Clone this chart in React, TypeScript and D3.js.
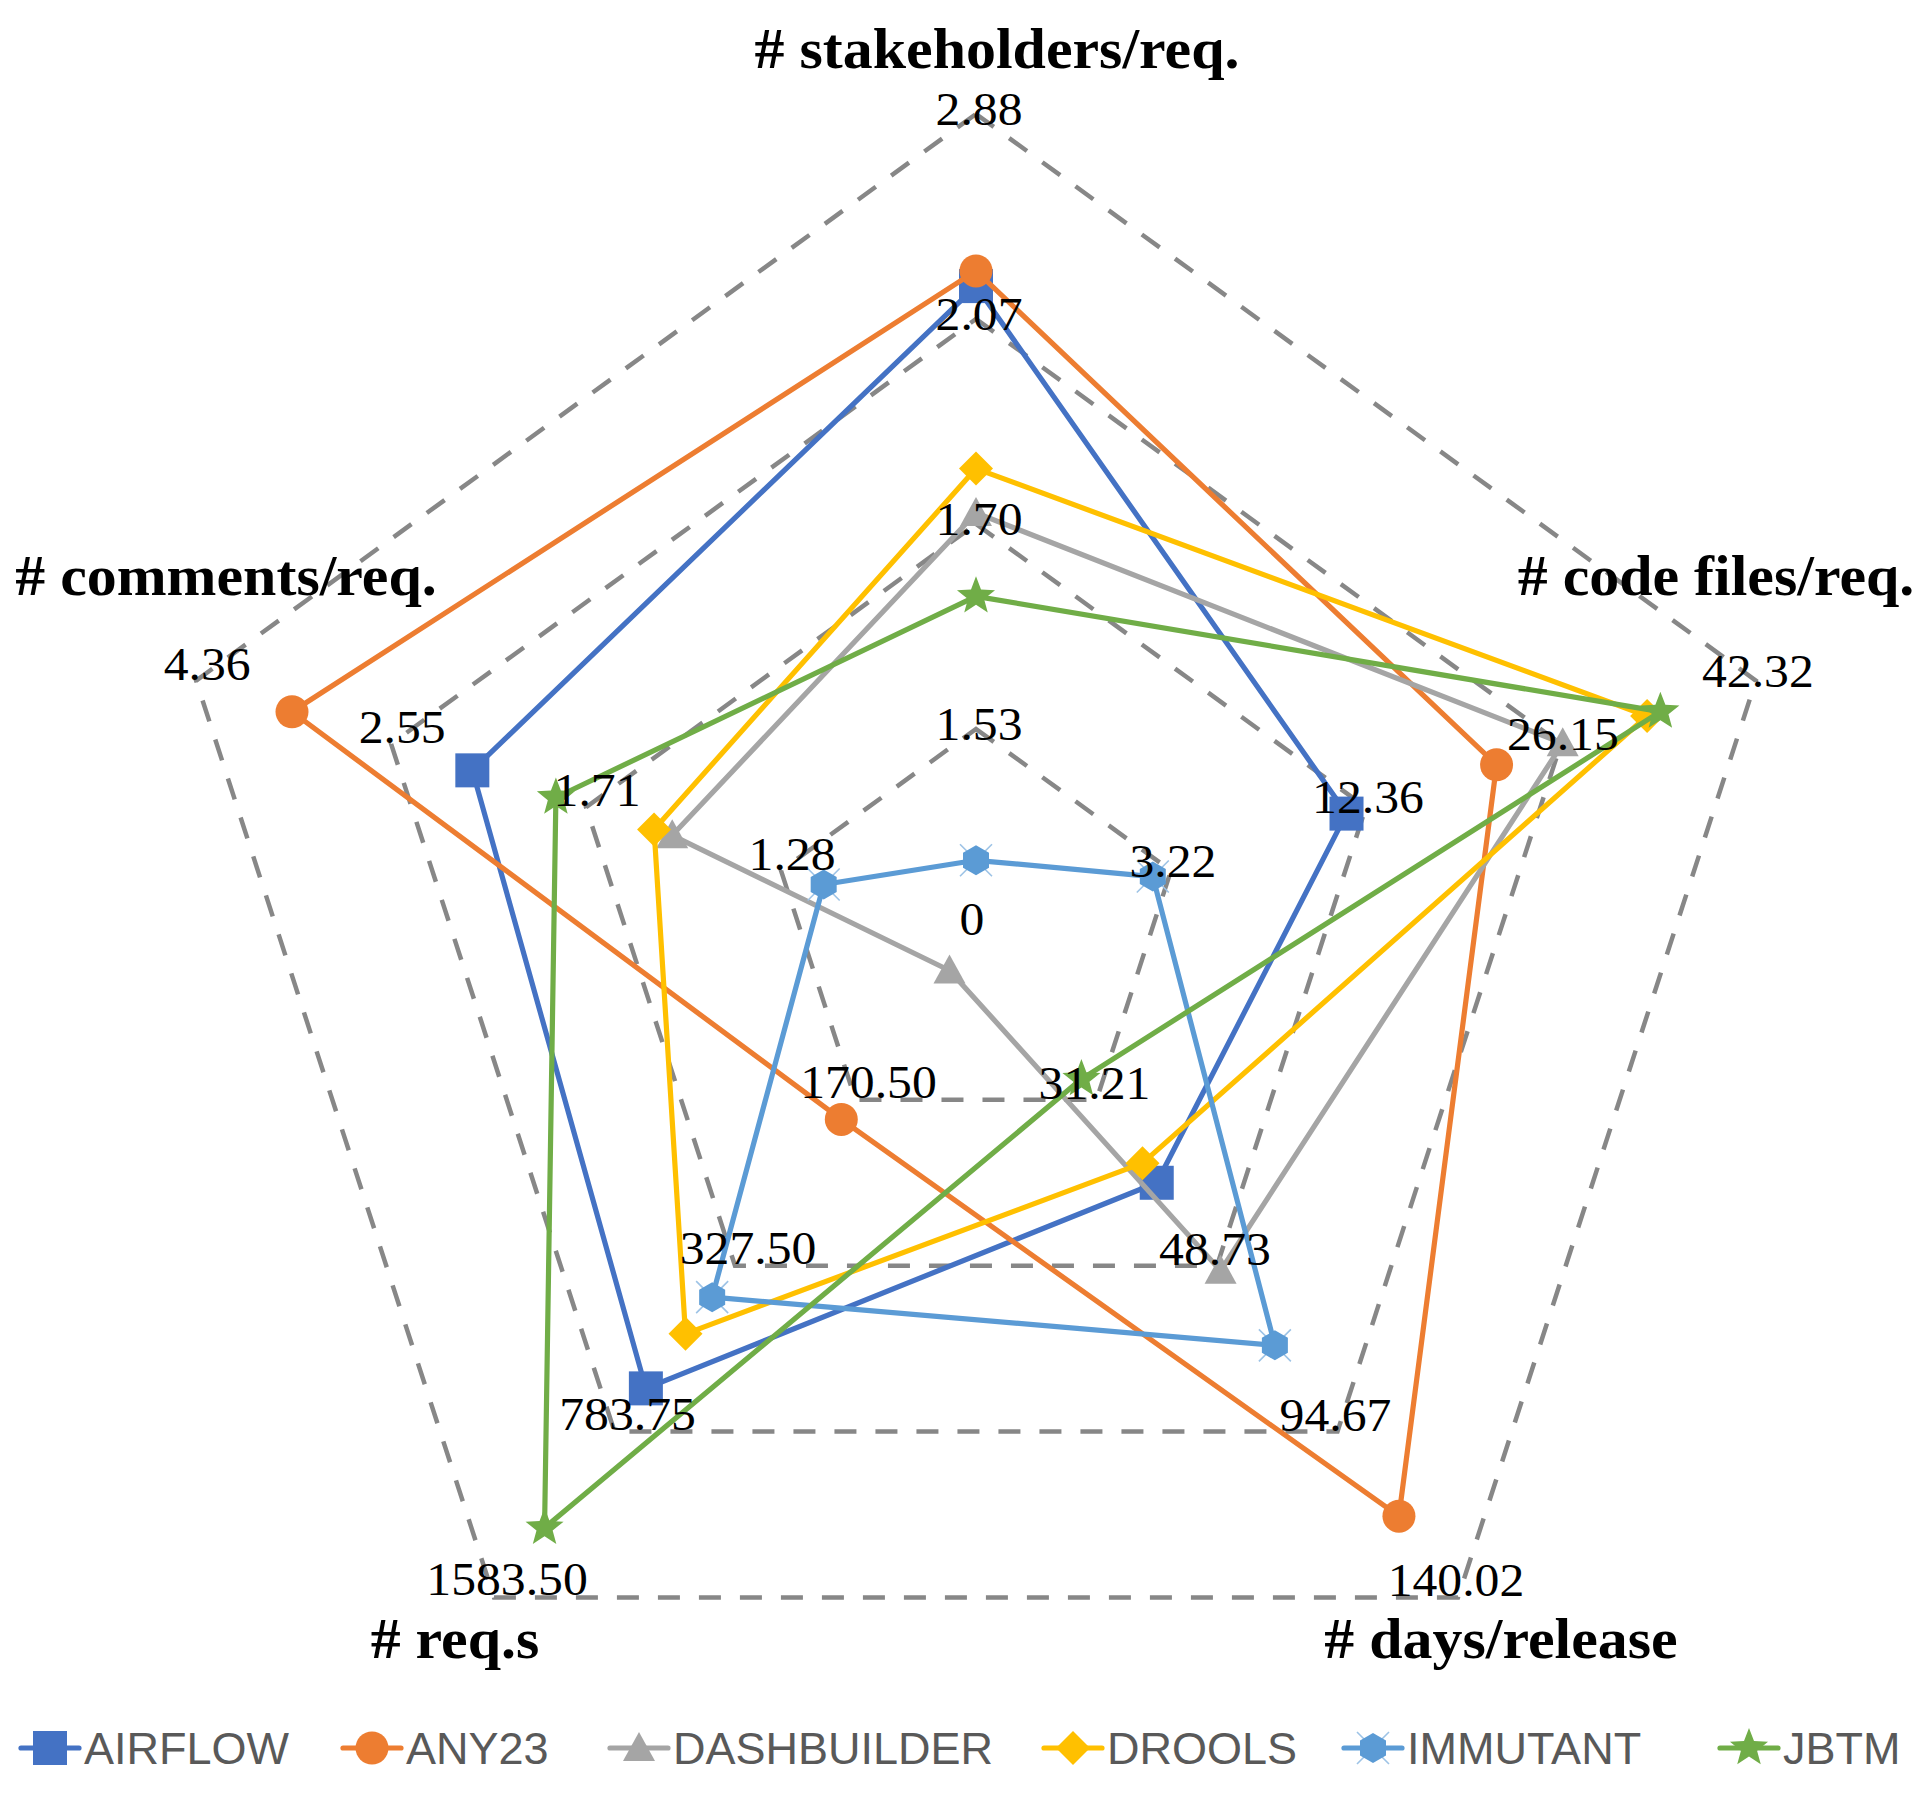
import React from 'react';
import * as d3 from 'd3';

// ---------- data ----------
const AXIS_TITLES = ['# stakeholders/req.', '# code files/req.', '# days/release', '# req.s', '# comments/req.'];

const STAKEHOLDER_TICKS = [0, 1.53, 1.7, 2.07, 2.88];
const CODE_FILE_TICKS = [0, 3.22, 12.36, 26.15, 42.32];
const DAYS_TICKS = [0, 31.21, 48.73, 94.67, 140.02];
const REQ_TICKS = [0, 170.5, 327.5, 783.75, 1583.5];
const COMMENT_TICKS = [0, 1.28, 1.71, 2.55, 4.36];
const AXIS_TICKS = [STAKEHOLDER_TICKS, CODE_FILE_TICKS, DAYS_TICKS, REQ_TICKS, COMMENT_TICKS];

const SERIES_NAMES = ['AIRFLOW', 'ANY23', 'DASHBUILDER', 'DROOLS', 'IMMUTANT', 'JBTM'];
// order: stakeholders/req., code files/req., days/release, req.s, comments/req.
const AIRFLOW = [2.2, 11.45, 39.97, 665, 2.2];
const ANY23 = [2.26, 21.6, 117.8, 189, 3.47];
const DASHBUILDER = [1.72, 26.3, 50.1, 37.5, 1.52];
const DROOLS = [1.8, 33.3, 37.9, 515, 1.56];
const IMMUTANT = [0.55, 2.92, 70.8, 414, 1.0];
const JBTM = [1.64, 34.4, 27.3, 1248, 1.84];
const SERIES_VALUES = [AIRFLOW, ANY23, DASHBUILDER, DROOLS, IMMUTANT, JBTM];

// ---------- styles / layout ----------
const SERIES_COLORS = ['#4472C4', '#ED7D31', '#A5A5A5', '#FFC000', '#5B9BD5', '#70AD47'];
const SERIES_MARKERS = ['square', 'circle', 'triangle', 'diamond', 'hexx', 'star'];
const W = 1931;
const H = 1807;
const CX = 976;
const CY = 934;
const R = 820;
const LEVELS = 4;
const SERIF = "'Liberation Serif', 'Times New Roman', Times, serif";
const SANS = "'Liberation Sans', Arial, sans-serif";
const TITLE_POS: [number, number][] = [[997, 68], [1716, 595], [1501, 1658], [455, 1658], [226, 595]];
const LABEL_OFFSETS: [number, number][] = [[3, 11], [2, 6], [-2, -1], [13, -2], [11, -1]];
const LEGEND_X = [21, 343, 610, 1044, 1344, 1720];
const LEGEND_Y = 1748;

const angle = (i: number) => (i * 2 * Math.PI) / AXIS_TITLES.length;
const radii = d3.range(LEVELS + 1).map((k) => (k * R) / LEVELS);
const scales = AXIS_TICKS.map((t) => d3.scaleLinear().domain(t).range(radii));
const fmt = d3.format('.2f');

function polar(r: number, i: number): [number, number] {
  const a = angle(i);
  return [CX + r * Math.sin(a), CY - r * Math.cos(a)];
}

function starPath(outer: number, inner: number) {
  const pts: string[] = [];
  for (let k = 0; k < 10; k++) {
    const rr = k % 2 === 0 ? outer : inner;
    const a = (k * Math.PI) / 5;
    pts.push(`${(rr * Math.sin(a)).toFixed(2)},${(-rr * Math.cos(a)).toFixed(2)}`);
  }
  return 'M' + pts.join('L') + 'Z';
}

function Marker({ type, color, x, y }: { type: string; color: string; x: number; y: number }) {
  const t = `translate(${x},${y})`;
  switch (type) {
    case 'square':
      return <rect x={x - 17} y={y - 17} width={34} height={34} fill={color} />;
    case 'circle':
      return <circle cx={x} cy={y} r={16.5} fill={color} />;
    case 'triangle':
      return <path transform={t} d="M0,-16L16,13L-16,13Z" fill={color} />;
    case 'diamond':
      return <path transform={t} d="M0,-17L17,0L0,17L-17,0Z" fill={color} />;
    case 'hexx':
      return (
        <g transform={t}>
          <path d="M-16,-16L16,16M16,-16L-16,16" stroke="#9DC3E6" strokeWidth={1.6} />
          <path d="M0,-15L13,-7.5L13,7.5L0,15L-13,7.5L-13,-7.5Z" fill={color} />
        </g>
      );
    case 'star':
      return <path transform={t} d={starPath(20, 8.5)} fill={color} />;
    default:
      return null;
  }
}

export default function App() {
  const radarLine = d3
    .lineRadial<number>()
    .angle((_, i) => angle(i))
    .radius((d, i) => scales[i](d))
    .curve(d3.curveLinearClosed);

  const gridRings = radii.slice(1).map((r) =>
    AXIS_TITLES.map((_, i) => polar(r, i))
  );

  return (
    <svg
      width={W}
      height={H}
      viewBox={`0 0 ${W} ${H}`}
      style={{ position: 'absolute', left: 0, top: 0, background: '#fff' }}
    >
      <rect width={W} height={H} fill="#fff" />
      {/* grid */}
      {gridRings.map((pts, k) => (
        <polygon
          key={k}
          points={pts.map((p) => p.join(',')).join(' ')}
          fill="none"
          stroke="#878787"
          strokeWidth={4.5}
          strokeDasharray="22 19"
        />
      ))}

      {/* series */}
      {SERIES_VALUES.map((vals, s) => (
        <g key={SERIES_NAMES[s]}>
          <path
            transform={`translate(${CX},${CY})`}
            d={radarLine(vals) || ''}
            fill="none"
            stroke={SERIES_COLORS[s]}
            strokeWidth={5.2}
            strokeLinejoin="round"
          />
          {vals.map((v, i) => {
            const [x, y] = polar(scales[i](v), i);
            return <Marker key={i} type={SERIES_MARKERS[s]} color={SERIES_COLORS[s]} x={x} y={y} />;
          })}
        </g>
      ))}

      {/* tick labels */}
      <text
        transform={`translate(${CX - 4},${CY + 1}) scale(1.08,1)`}
        textAnchor="middle"
        fontFamily={SERIF}
        fontSize={46}
        fill="#000"
      >
        0
      </text>
      {AXIS_TICKS.map((ticks, i) =>
        ticks.slice(1).map((t, k) => {
          const [x, y] = polar(radii[k + 1], i);
          const [dx, dy] = LABEL_OFFSETS[i];
          return (
            <text
              key={`${i}-${k}`}
              transform={`translate(${x + dx},${y + dy}) scale(1.08,1)`}
              textAnchor="middle"
              fontFamily={SERIF}
              fontSize={46}
              fill="#000"
            >
              {fmt(t)}
            </text>
          );
        })
      )}

      {/* axis titles */}
      {AXIS_TITLES.map((title, i) => (
        <text
          key={title}
          transform={`translate(${TITLE_POS[i][0]},${TITLE_POS[i][1]}) scale(1.07,1)`}
          textAnchor="middle"
          fontFamily={SERIF}
          fontWeight="bold"
          fontSize={56}
          fill="#000"
        >
          {title}
        </text>
      ))}

      {/* legend */}
      {SERIES_NAMES.map((name, s) => {
        const x0 = LEGEND_X[s];
        return (
          <g key={name}>
            <line
              x1={x0}
              x2={x0 + 58}
              y1={LEGEND_Y}
              y2={LEGEND_Y}
              stroke={SERIES_COLORS[s]}
              strokeWidth={5.2}
              strokeLinecap="round"
            />
            <Marker type={SERIES_MARKERS[s]} color={SERIES_COLORS[s]} x={x0 + 29} y={LEGEND_Y} />
            <text x={x0 + 63} y={LEGEND_Y + 16} fontFamily={SANS} fontSize={45} fill="#595959">
              {name}
            </text>
          </g>
        );
      })}
    </svg>
  );
}
